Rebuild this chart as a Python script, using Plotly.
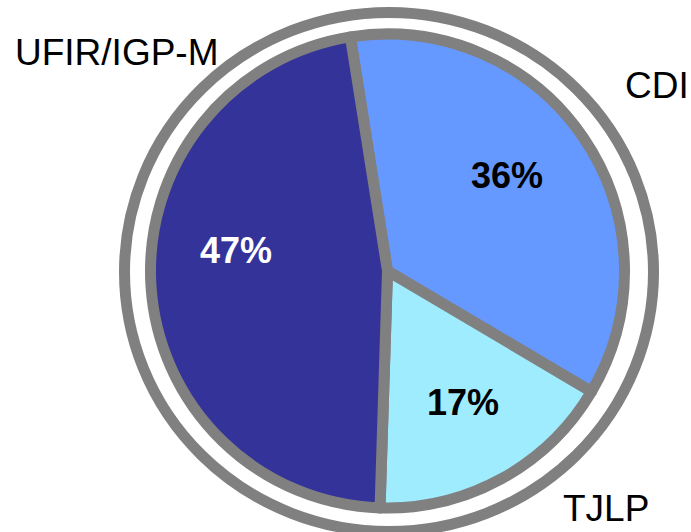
import plotly.graph_objects as go

labels = ["CDI", "TJLP", "UFIR/IGP-M"]
values = [36, 17, 47]
colors = ["#6699FF", "#A0ECFF", "#333399"]
pct_text_colors = ["black", "black", "white"]

# positions of annotations (pixels from the top-left corner)
W, H = 691, 532
pct_pos = [(507, 175), (463, 402), (236, 250)]
lbl_pos = [(623, 85), (561, 508), (13, 52)]

fig = go.Figure()
fig.add_trace(go.Pie(
    labels=labels,
    values=values,
    sort=False,
    direction="clockwise",
    rotation=-9,
    marker=dict(colors=colors, line=dict(color="#808080", width=11)),
    textinfo="none",
    hoverinfo="label+percent",
    showlegend=False,
    domain=dict(x=[150.5 / W, 624.5 / W], y=[24 / H, 498 / H]),
))

annotations = []
for v, (px, py), c in zip(values, pct_pos, pct_text_colors):
    annotations.append(dict(
        text=f"<b>{v}%</b>", x=px / W, y=1 - py / H, xref="paper", yref="paper",
        xanchor="center", yanchor="middle", showarrow=False,
        font=dict(family="Liberation Sans, Arial, sans-serif", size=36, color=c),
    ))
for lab, (px, py) in zip(labels, lbl_pos):
    annotations.append(dict(
        text=lab, x=px / W, y=1 - py / H, xref="paper", yref="paper",
        xanchor="left", yanchor="middle", showarrow=False,
        font=dict(family="Liberation Sans, Arial, sans-serif", size=37, color="black"),
    ))

# outer ring
cx, cy, rx, ry = 389, 272, 264.5, 259.5
fig.update_layout(
    width=W, height=H,
    margin=dict(l=0, r=0, t=0, b=0),
    paper_bgcolor="white",
    plot_bgcolor="white",
    annotations=annotations,
    shapes=[dict(
        type="circle", xref="paper", yref="paper",
        x0=(cx - rx) / W, x1=(cx + rx) / W,
        y0=1 - (cy + ry) / H, y1=1 - (cy - ry) / H,
        line=dict(color="#808080", width=11),
        fillcolor="rgba(0,0,0,0)", layer="below",
    )],
)

fig.write_html(
    "out.html",
    config={"displayModeBar": False},
    post_script="document.body.style.margin='0';document.body.style.overflow='hidden';",
)
